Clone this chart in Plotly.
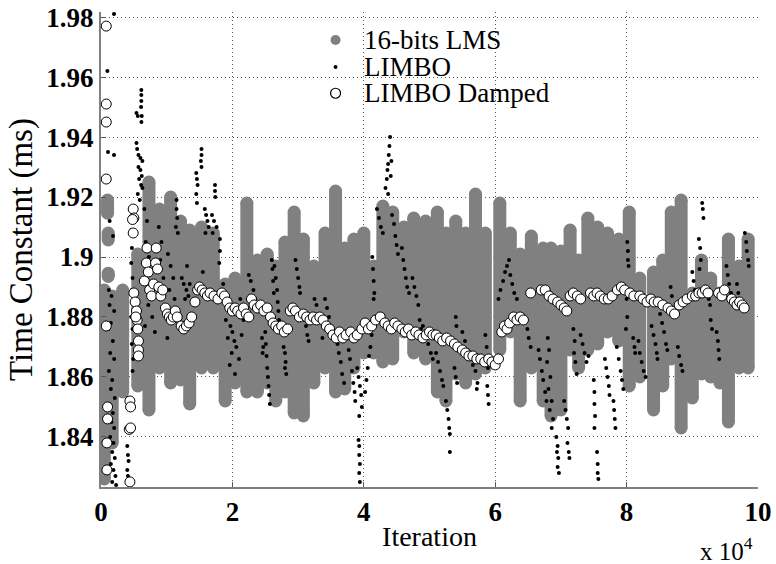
import plotly.graph_objects as go

# iteration values are in units of 1e4 (axis carries the "x 10^4" factor)

# 16-bits LMS: the grey markers pile up into vertical streaks,
# read off the picture as (iteration, lowest, highest) per streak
lms_x = [0.05, 0.17, 0.10, 0.11, 0.11, 0.33, 0.56, 0.73, 0.89, 1.06, 1.21, 1.35, 1.53,
         1.71, 1.89, 2.04, 2.22, 2.38, 2.53, 2.66, 2.80, 2.94, 3.08, 3.24,
         3.41, 3.57, 3.71, 3.85, 4.00, 4.15, 4.29, 4.44, 4.61, 4.76, 4.94,
         5.12, 5.25, 5.40, 5.55, 5.70, 5.85, 6.07, 6.23, 6.38, 6.55, 6.73,
         6.85, 7.00, 7.14, 7.27, 7.41, 7.56, 7.71, 7.88, 8.04, 8.20, 8.41,
         8.55, 8.68, 8.83, 9.00, 9.14, 9.28, 9.42, 9.55, 9.71, 9.85]
lms_lo = [1.826, 1.838, 1.9146, 1.9057, 1.8935, 1.855, 1.857, 1.849, 1.863, 1.858, 1.859, 1.851, 1.863,
          1.863, 1.852, 1.858, 1.855, 1.855, 1.858, 1.852, 1.855, 1.848, 1.847, 1.858,
          1.863, 1.855, 1.856, 1.863, 1.868, 1.868, 1.865, 1.866, 1.875, 1.868, 1.866,
          1.855, 1.852, 1.861, 1.858, 1.861, 1.863, 1.869, 1.875, 1.852, 1.863, 1.852,
          1.847, 1.849, 1.869, 1.863, 1.869, 1.871, 1.875, 1.872, 1.857, 1.860, 1.849,
          1.857, 1.866, 1.843, 1.853, 1.861, 1.860, 1.858, 1.845, 1.863, 1.863]
lms_hi = [1.889, 1.887, 1.919, 1.908, 1.8946, 1.889, 1.901, 1.925, 1.916, 1.920, 1.912, 1.909, 1.910,
          1.908, 1.891, 1.893, 1.918, 1.899, 1.901, 1.897, 1.905, 1.915, 1.906, 1.897,
          1.908, 1.922, 1.903, 1.906, 1.908, 1.897, 1.917, 1.915, 1.910, 1.913, 1.912,
          1.915, 1.908, 1.912, 1.908, 1.921, 1.908, 1.918, 1.908, 1.901, 1.907, 1.903,
          1.903, 1.902, 1.909, 1.899, 1.913, 1.910, 1.908, 1.906, 1.915, 1.893, 1.895,
          1.899, 1.915, 1.919, 1.888, 1.899, 1.893, 1.888, 1.906, 1.897, 1.906]

# LIMBO (small black dots)
limbo_pts = [
    (0.198, 1.981), (0.097, 1.962), (0.107, 1.935), (0.198, 1.934), (0.132, 1.912), (0.183, 1.907),
    (0.12, 1.889), (0.16, 1.887), (0.13, 1.884), (0.20, 1.882), (0.15, 1.878), (0.11, 1.876),
    (0.18, 1.872), (0.14, 1.868), (0.20, 1.866), (0.12, 1.862), (0.17, 1.859), (0.15, 1.856),
    (0.21, 1.853), (0.13, 1.851), (0.18, 1.848), (0.16, 1.845), (0.20, 1.843), (0.14, 1.840),
    (0.19, 1.838), (0.17, 1.835), (0.21, 1.833), (0.15, 1.831), (0.19, 1.829), (0.22, 1.827),
    (0.17, 1.825), (0.23, 1.824),
    (0.41, 1.853), (0.42, 1.851), (0.40, 1.837), (0.41, 1.834), (0.42, 1.832), (0.40, 1.829),
    (0.41, 1.827), (0.42, 1.825),
    (0.46, 1.909), (0.47, 1.903), (0.46, 1.898), (0.48, 1.893), (0.47, 1.889), (0.49, 1.885),
    (0.46, 1.880), (0.48, 1.876), (0.47, 1.871), (0.49, 1.866), (0.48, 1.862),
    (0.614, 1.9557), (0.614, 1.954), (0.614, 1.952), (0.61, 1.950), (0.62, 1.947), (0.615, 1.945),
    (0.54, 1.948), (0.56, 1.947), (0.54, 1.938), (0.55, 1.936), (0.57, 1.934), (0.60, 1.933),
    (0.63, 1.932), (0.57, 1.930), (0.60, 1.929), (0.62, 1.927), (0.58, 1.926), (0.61, 1.924),
    (0.63, 1.923), (0.56, 1.921), (0.59, 1.919),
    (0.66, 1.916), (0.70, 1.912), (0.68, 1.905), (0.73, 1.900), (0.77, 1.898), (0.70, 1.894),
    (0.75, 1.890), (0.80, 1.887), (0.72, 1.884), (0.78, 1.880), (0.67, 1.877), (0.82, 1.875),
    (0.88, 1.910), (0.92, 1.905), (0.90, 1.899), (0.95, 1.893), (0.93, 1.887), (0.96, 1.882),
    (1.15, 1.919), (1.15, 1.916), (1.16, 1.913), (1.14, 1.910), (1.17, 1.908), (1.02, 1.901),
    (1.06, 1.897), (1.10, 1.893), (1.04, 1.889), (1.12, 1.886), (1.08, 1.882), (1.18, 1.878),
    (1.01, 1.873),
    (1.23, 1.893), (1.26, 1.891), (1.30, 1.889), (1.33, 1.887), (1.28, 1.886), (1.35, 1.891),
    (1.27, 1.875), (1.31, 1.897),
    (1.53, 1.936), (1.53, 1.934), (1.52, 1.932), (1.53, 1.930), (1.45, 1.928), (1.46, 1.926),
    (1.47, 1.924), (1.45, 1.921), (1.46, 1.918), (1.58, 1.916), (1.60, 1.914), (1.62, 1.912),
    (1.64, 1.910), (1.59, 1.908), (1.55, 1.895), (1.50, 1.890),
    (1.735, 1.924), (1.735, 1.922), (1.74, 1.920), (1.69, 1.914), (1.72, 1.912), (1.76, 1.910),
    (1.70, 1.908), (1.81, 1.906), (1.81, 1.902), (1.80, 1.898),
    (1.86, 1.891), (1.88, 1.887), (1.91, 1.884), (1.95, 1.882), (1.90, 1.879), (1.97, 1.877),
    (2.00, 1.875), (1.93, 1.873), (2.03, 1.872), (2.06, 1.870), (1.99, 1.868), (2.10, 1.866),
    (2.14, 1.874), (2.17, 1.879), (2.08, 1.881), (2.12, 1.886), (1.96, 1.864), (2.04, 1.861),
    (2.25, 1.894), (2.28, 1.892), (2.32, 1.889), (2.27, 1.887), (2.35, 1.886), (2.45, 1.873),
    (2.47, 1.870), (2.46, 1.868),
    (2.50, 1.875), (2.51, 1.871), (2.52, 1.867), (2.53, 1.863), (2.54, 1.860), (2.55, 1.857),
    (2.56, 1.854), (2.57, 1.851), (2.60, 1.899), (2.61, 1.896), (2.62, 1.892), (2.63, 1.888),
    (2.64, 1.897), (2.66, 1.893), (2.68, 1.889), (2.69, 1.885), (2.70, 1.882), (2.71, 1.879),
    (2.78, 1.870), (2.80, 1.868), (2.81, 1.865), (2.80, 1.863), (2.82, 1.861),
    (2.96, 1.899), (2.98, 1.896), (3.00, 1.893), (3.02, 1.890), (3.03, 1.888),
    (3.10, 1.879), (3.12, 1.877), (3.14, 1.874), (3.16, 1.872),
    (3.25, 1.886), (3.28, 1.884), (3.31, 1.881), (3.35, 1.879), (3.37, 1.873),
    (3.41, 1.886), (3.44, 1.883), (3.47, 1.880), (3.50, 1.877), (3.46, 1.875),
    (3.57, 1.875), (3.60, 1.871), (3.62, 1.868), (3.65, 1.865), (3.67, 1.861), (3.70, 1.858),
    (3.77, 1.869), (3.79, 1.866), (3.82, 1.862), (3.84, 1.858), (3.86, 1.855), (3.87, 1.852),
    (3.90, 1.863), (3.92, 1.860), (3.94, 1.857), (3.96, 1.854), (3.97, 1.850), (3.93, 1.847),
    (3.92, 1.839), (3.93, 1.837), (3.93, 1.834), (3.94, 1.831), (3.93, 1.828), (3.94, 1.825),
    (4.02, 1.855), (4.04, 1.859), (4.06, 1.863), (4.08, 1.867), (4.10, 1.870), (4.12, 1.874),
    (4.13, 1.900), (4.14, 1.896), (4.15, 1.892), (4.16, 1.888), (4.15, 1.886),
    (4.20, 1.916), (4.23, 1.913), (4.26, 1.910), (4.29, 1.908),
    (4.33, 1.923), (4.35, 1.926), (4.36, 1.929), (4.37, 1.931), (4.38, 1.934), (4.39, 1.937),
    (4.40, 1.940), (4.42, 1.932), (4.41, 1.927), (4.37, 1.921),
    (4.43, 1.914), (4.46, 1.911), (4.48, 1.907), (4.50, 1.904), (4.52, 1.901),
    (4.58, 1.903), (4.60, 1.899), (4.62, 1.896), (4.64, 1.893), (4.66, 1.890), (4.69, 1.888),
    (4.74, 1.893), (4.77, 1.890), (4.80, 1.887), (4.83, 1.884), (4.85, 1.879), (4.87, 1.876),
    (4.90, 1.877), (4.94, 1.874), (4.98, 1.871), (5.02, 1.868), (5.05, 1.866),
    (5.10, 1.868), (5.13, 1.865), (5.16, 1.862), (5.19, 1.859), (5.21, 1.857),
    (5.25, 1.852), (5.27, 1.849), (5.29, 1.846), (5.30, 1.843), (5.31, 1.841), (5.31, 1.835),
    (5.40, 1.880), (5.41, 1.877), (5.38, 1.863), (5.40, 1.860), (5.42, 1.858),
    (5.50, 1.875), (5.54, 1.872), (5.58, 1.869), (5.62, 1.867), (5.66, 1.864), (5.70, 1.862),
    (5.73, 1.858), (5.72, 1.856),
    (5.85, 1.874), (5.87, 1.870), (5.88, 1.866), (5.89, 1.863), (5.88, 1.857), (5.89, 1.854),
    (5.90, 1.851),
    (6.05, 1.886), (6.08, 1.889), (6.12, 1.892), (6.15, 1.895), (6.18, 1.897), (6.21, 1.899),
    (6.23, 1.894), (6.26, 1.891), (6.29, 1.888), (6.33, 1.886),
    (6.47, 1.879), (6.49, 1.876), (6.51, 1.873), (6.54, 1.870),
    (6.66, 1.869), (6.68, 1.866), (6.71, 1.862), (6.73, 1.859), (6.76, 1.855), (6.78, 1.852),
    (6.80, 1.873), (6.82, 1.869), (6.79, 1.865), (6.84, 1.860), (6.81, 1.856), (6.86, 1.852),
    (6.83, 1.849), (6.88, 1.846), (6.86, 1.843),
    (6.93, 1.840), (6.95, 1.837), (6.94, 1.835), (6.96, 1.833), (6.95, 1.830), (6.97, 1.828),
    (7.05, 1.852), (7.07, 1.849), (7.09, 1.846), (7.11, 1.843), (7.10, 1.838), (7.12, 1.835),
    (7.13, 1.833),
    (7.19, 1.876), (7.21, 1.872), (7.20, 1.868), (7.22, 1.865), (7.24, 1.861),
    (7.30, 1.874), (7.33, 1.871), (7.36, 1.868), (7.39, 1.865), (7.42, 1.867),
    (7.50, 1.859), (7.51, 1.855), (7.51, 1.851), (7.52, 1.847), (7.51, 1.843), (7.55, 1.835),
    (7.56, 1.831), (7.56, 1.828), (7.57, 1.826),
    (7.67, 1.866), (7.69, 1.863), (7.71, 1.860), (7.73, 1.857), (7.74, 1.854),
    (7.80, 1.852), (7.81, 1.849), (7.82, 1.846), (7.83, 1.843),
    (7.85, 1.870), (7.88, 1.866), (7.91, 1.862), (7.93, 1.859), (7.95, 1.856),
    (8.01, 1.905), (8.02, 1.902), (8.02, 1.899), (8.03, 1.897), (8.00, 1.886), (8.01, 1.880),
    (7.99, 1.876),
    (8.10, 1.873), (8.12, 1.870), (8.13, 1.868),
    (8.18, 1.872), (8.20, 1.868), (8.23, 1.865), (8.26, 1.862), (8.29, 1.860),
    (8.38, 1.877), (8.41, 1.874), (8.44, 1.871), (8.46, 1.868), (8.47, 1.866),
    (8.51, 1.881), (8.54, 1.878), (8.57, 1.875), (8.60, 1.871), (8.62, 1.869),
    (8.67, 1.890), (8.69, 1.887),
    (8.78, 1.870), (8.80, 1.867), (8.83, 1.864), (8.85, 1.862),
    (9.00, 1.895), (9.02, 1.892), (9.04, 1.889),
    (9.15, 1.918), (9.16, 1.916), (9.17, 1.913), (9.10, 1.906), (9.12, 1.903), (9.13, 1.899),
    (9.11, 1.896),
    (9.25, 1.886), (9.27, 1.884), (9.28, 1.879), (9.30, 1.876),
    (9.37, 1.875), (9.39, 1.872), (9.40, 1.869), (9.41, 1.866),
    (9.52, 1.897), (9.54, 1.894), (9.56, 1.891), (9.59, 1.888), (9.62, 1.886),
    (9.68, 1.891), (9.70, 1.888), (9.72, 1.886),
    (9.80, 1.908), (9.82, 1.905), (9.83, 1.902), (9.85, 1.899), (9.86, 1.897),
]

# LIMBO Damped (open circles)
damped_pts = [
    (0.08, 1.977), (0.08, 1.951), (0.08, 1.945), (0.08, 1.926), (0.08, 1.877), (0.10, 1.850),
    (0.10, 1.846), (0.09, 1.838), (0.09, 1.829), (0.44, 1.825), (0.44, 1.852), (0.45, 1.850),
    (0.43, 1.8425), (0.45, 1.843),
    (0.49, 1.916), (0.50, 1.913), (0.48, 1.9125), (0.49, 1.908),
    (0.50, 1.888), (0.52, 1.885), (0.54, 1.882), (0.55, 1.879), (0.56, 1.876), (0.57, 1.872),
    (0.57, 1.869), (0.57, 1.867), (0.53, 1.880),
    (0.66, 1.892), (0.69, 1.898), (0.70, 1.903), (0.72, 1.895), (0.74, 1.889), (0.77, 1.887),
    (0.80, 1.891), (0.83, 1.898), (0.84, 1.903), (0.86, 1.896), (0.88, 1.890), (0.91, 1.887),
    (0.94, 1.889),
    (0.98, 1.883), (1.01, 1.881), (1.04, 1.880), (1.07, 1.879), (1.10, 1.880), (1.13, 1.882),
    (1.16, 1.880),
    (1.22, 1.877), (1.26, 1.876), (1.30, 1.877), (1.34, 1.878), (1.38, 1.880),
    (1.43, 1.885), (1.47, 1.889), (1.50, 1.890), (1.54, 1.889), (1.58, 1.888), (1.62, 1.887),
    (1.66, 1.888), (1.72, 1.887), (1.78, 1.886), (1.84, 1.888), (1.88, 1.887), (1.92, 1.885),
    (1.96, 1.883), (2.00, 1.882), (2.04, 1.883), (2.08, 1.882), (2.13, 1.881), (2.17, 1.883),
    (2.21, 1.881), (2.25, 1.880), (2.29, 1.886), (2.33, 1.884), (2.38, 1.883), (2.43, 1.884),
    (2.48, 1.882), (2.53, 1.883), (2.58, 1.880), (2.62, 1.878), (2.66, 1.877), (2.70, 1.876),
    (2.75, 1.877), (2.79, 1.875), (2.84, 1.876), (2.88, 1.882), (2.92, 1.883), (2.96, 1.882),
    (3.02, 1.880), (3.08, 1.881), (3.13, 1.880), (3.18, 1.879), (3.23, 1.880), (3.28, 1.879),
    (3.33, 1.880),
    (3.38, 1.879), (3.43, 1.877), (3.48, 1.876), (3.53, 1.874), (3.58, 1.873), (3.63, 1.875),
    (3.68, 1.873), (3.73, 1.874), (3.80, 1.875), (3.85, 1.873), (3.90, 1.874), (3.97, 1.876),
    (4.02, 1.878), (4.07, 1.876), (4.12, 1.877), (4.18, 1.879), (4.25, 1.880), (4.32, 1.878),
    (4.37, 1.877), (4.42, 1.876), (4.47, 1.878), (4.52, 1.877), (4.58, 1.876), (4.63, 1.875),
    (4.68, 1.876), (4.73, 1.874), (4.79, 1.875), (4.84, 1.874), (4.90, 1.873), (4.95, 1.874),
    (5.00, 1.875), (5.05, 1.874),
    (5.10, 1.874), (5.15, 1.873), (5.20, 1.872), (5.26, 1.873), (5.32, 1.872), (5.38, 1.871),
    (5.43, 1.870), (5.50, 1.869), (5.55, 1.868), (5.60, 1.867), (5.66, 1.867), (5.72, 1.866),
    (5.78, 1.866), (5.84, 1.865), (5.90, 1.866), (5.95, 1.865), (6.00, 1.864), (6.05, 1.866),
    (6.10, 1.875), (6.14, 1.877), (6.18, 1.876), (6.22, 1.878), (6.28, 1.880), (6.33, 1.879),
    (6.38, 1.880), (6.43, 1.879), (6.54, 1.888), (6.70, 1.889), (6.76, 1.889),
    (6.82, 1.887), (6.88, 1.886), (6.95, 1.885), (7.00, 1.884), (7.05, 1.883), (7.09, 1.882),
    (7.14, 1.887), (7.19, 1.888), (7.25, 1.887), (7.30, 1.886), (7.45, 1.888), (7.50, 1.887),
    (7.55, 1.888), (7.60, 1.887), (7.66, 1.886), (7.72, 1.886), (7.78, 1.887), (7.86, 1.889),
    (7.92, 1.890), (7.97, 1.889), (8.05, 1.888), (8.11, 1.887), (8.20, 1.887), (8.25, 1.886),
    (8.31, 1.885), (8.37, 1.886), (8.42, 1.885), (8.48, 1.885),
    (8.55, 1.884), (8.63, 1.883), (8.68, 1.882), (8.73, 1.881), (8.80, 1.884), (8.86, 1.885),
    (8.92, 1.886), (9.00, 1.887), (9.05, 1.887), (9.10, 1.888), (9.15, 1.888), (9.20, 1.889),
    (9.24, 1.888), (9.40, 1.888), (9.45, 1.887), (9.49, 1.889), (9.60, 1.886), (9.64, 1.885),
    (9.68, 1.884), (9.72, 1.885), (9.76, 1.884), (9.79, 1.883),
]

series_names = ["16-bits LMS", "LIMBO", "LIMBO Damped"]

x_ticks = [0, 2, 4, 6, 8, 10]
y_ticks = [1.84, 1.86, 1.88, 1.90, 1.92, 1.94, 1.96, 1.98]
y_ticktext = ["1.84", "1.86", "1.88", "1.9", "1.92", "1.94", "1.96", "1.98"]

GREY = "#808080"
FONT = "Liberation Serif"

# build the streaks as vertical segments
seg_x, seg_y = [], []
for x, lo, hi in zip(lms_x, lms_lo, lms_hi):
    seg_x += [x, x, None]
    seg_y += [lo, hi, None]

fig = go.Figure()

fig.add_trace(go.Scatter(x=seg_x, y=seg_y, mode="lines+markers", name=series_names[0],
                         showlegend=False,
                         line=dict(color=GREY, width=13),
                         marker=dict(color=GREY, size=13), hoverinfo="skip"))

fig.add_trace(go.Scatter(x=[p[0] for p in limbo_pts], y=[p[1] for p in limbo_pts],
                         mode="markers", name=series_names[1], showlegend=False,
                         marker=dict(color="black", size=4)))

fig.add_trace(go.Scatter(x=[p[0] for p in damped_pts], y=[p[1] for p in damped_pts],
                         mode="markers", name=series_names[2], showlegend=False,
                         marker=dict(color="white", size=10,
                                     line=dict(color="black", width=1))))

axis_common = dict(showline=True, linecolor=GREY, linewidth=2, ticks="inside",
                   ticklen=5, tickcolor="#555", showgrid=True, gridcolor="#555",
                   griddash="1px,3px", gridwidth=1, zeroline=False, mirror=False,
                   automargin=False,
                   tickfont=dict(family=FONT, size=27, color="black", weight="bold"))

fig.update_xaxes(range=[0, 10], tickvals=x_ticks, ticktext=[str(t) for t in x_ticks],
                 title=dict(text="Iteration", font=dict(family=FONT, size=28, color="black"),
                            standoff=0),
                 **axis_common)
fig.update_yaxes(range=[1.8233, 1.9817], tickvals=y_ticks, ticktext=y_ticktext,
                 title=dict(text="Time Constant (ms)", font=dict(family=FONT, size=33, color="black"),
                            standoff=4),
                 **axis_common)

fig.add_annotation(text="x 10<sup>4</sup>", xref="paper", yref="paper", x=0.995, y=-0.13,
                   xanchor="right", yanchor="middle", showarrow=False,
                   font=dict(family=FONT, size=25, color="black"))

# hand-made legend box (rows are tighter than plotly's own legend allows)
shapes = [dict(type="rect", xref="paper", yref="paper", x0=0.323, x1=0.695, y0=0.79, y1=0.975,
               fillcolor="white", line=dict(width=0), layer="below")]
key_x = 0.357
row_y = [0.941, 0.884, 0.829]
keys = [dict(r=5, fill=GREY, line=GREY, w=0),
        dict(r=2, fill="black", line="black", w=0),
        dict(r=5, fill="white", line="black", w=1.2)]
for name, yy, k in zip(series_names, row_y, keys):
    shapes.append(dict(type="circle", xref="paper", yref="paper",
                       xsizemode="pixel", ysizemode="pixel", xanchor=key_x, yanchor=yy,
                       x0=-k["r"], x1=k["r"], y0=-k["r"], y1=k["r"],
                       fillcolor=k["fill"], line=dict(color=k["line"], width=k["w"]),
                       layer="above"))
    fig.add_annotation(text=name, xref="paper", yref="paper", x=0.397, y=yy,
                       xanchor="left", yanchor="middle", showarrow=False,
                       font=dict(family=FONT, size=27, color="black"))

fig.update_layout(
    width=776, height=564,
    margin=dict(l=101, r=18, t=12, b=77),
    paper_bgcolor="white", plot_bgcolor="white",
    font=dict(family=FONT, color="black"),
    showlegend=False,
    shapes=shapes,
)

# drop the browser's default 8px body margin so the figure sits at the page corner
fig.write_html("out.html", config={"displayModeBar": False},
               post_script="document.body.style.margin='0';")
